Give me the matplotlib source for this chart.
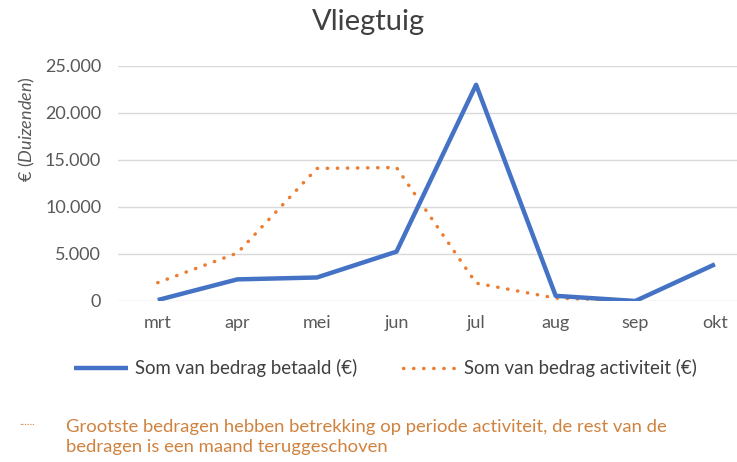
import matplotlib.pyplot as plt
import numpy as np
from matplotlib.ticker import FuncFormatter

months = ['mrt', 'apr', 'mei', 'jun', 'jul', 'aug', 'sep', 'okt']
betaald = [100, 2300, 2500, 5250, 23000, 550, 0, 3900]
activiteit = [1950, 5100, 14100, 14200, 1900, 300, 50, np.nan]
yticks = [0, 5000, 10000, 15000, 20000, 25000]

blue = '#4472C4'
orange = '#ED7D31'
note_orange = '#D0823F'
grey = '#595959'

plt.rcParams['font.family'] = ['Lato', 'DejaVu Sans']
plt.rcParams['mathtext.fontset'] = 'custom'
plt.rcParams['mathtext.rm'] = 'Lato'
plt.rcParams['mathtext.it'] = 'Lato:italic'

fig = plt.figure(figsize=(7.37, 4.62), dpi=100)
ax = fig.add_axes([0.160, 0.3485, 0.864, 0.5087])

x = np.arange(len(months))
l1, = ax.plot(x, betaald, color=blue, lw=3.2, solid_capstyle='butt',
              label='Som van bedrag betaald (€)', zorder=3)
l2, = ax.plot(x, activiteit, color=orange, lw=2.5, dashes=(0.1, 2.8),
              dash_capstyle='round', label='Som van bedrag activiteit (€)', zorder=2)

ax.set_xlim(-0.5, len(months) - 0.5)
ax.set_ylim(0, 25000)
ax.set_yticks(yticks)
ax.yaxis.set_major_formatter(FuncFormatter(lambda v, p: f'{int(v):,}'.replace(',', '.')))
ax.set_xticks(x)
ax.set_xticklabels(months)
ax.tick_params(length=0, labelsize=13, colors=grey)
ax.tick_params(axis='y', pad=12)
ax.tick_params(axis='x', pad=10)
ax.grid(axis='y', color='#D9D9D9', lw=1)
ax.set_axisbelow(True)
for s in ax.spines.values():
    s.set_visible(False)

fig.text(0.5, 0.952, 'Vliegtuig', ha='center', va='center', fontsize=21, color='#404040')

fig.text(0.037, 0.72, r'€ $\mathit{(Duizenden)}$', rotation=90, ha='center', va='center',
         fontsize=13, color=grey)

leg = fig.legend(handles=[l1, l2], loc='center', bbox_to_anchor=(0.523, 0.203),
                 ncol=2, frameon=False, fontsize=13.4, handlelength=2.9,
                 handletextpad=0.38, columnspacing=2.5)
for t in leg.get_texts():
    t.set_color('#404040')

fig.text(0.026, 0.088, '......', fontsize=8, color=note_orange, va='center')
fig.text(0.089, 0.055, 'Grootste bedragen hebben betrekking op periode activiteit, de rest van de\n'
         'bedragen is een maand teruggeschoven', fontsize=13.3, color=note_orange,
         va='center', linespacing=1.3)

fig.savefig('out.png', dpi=100)
